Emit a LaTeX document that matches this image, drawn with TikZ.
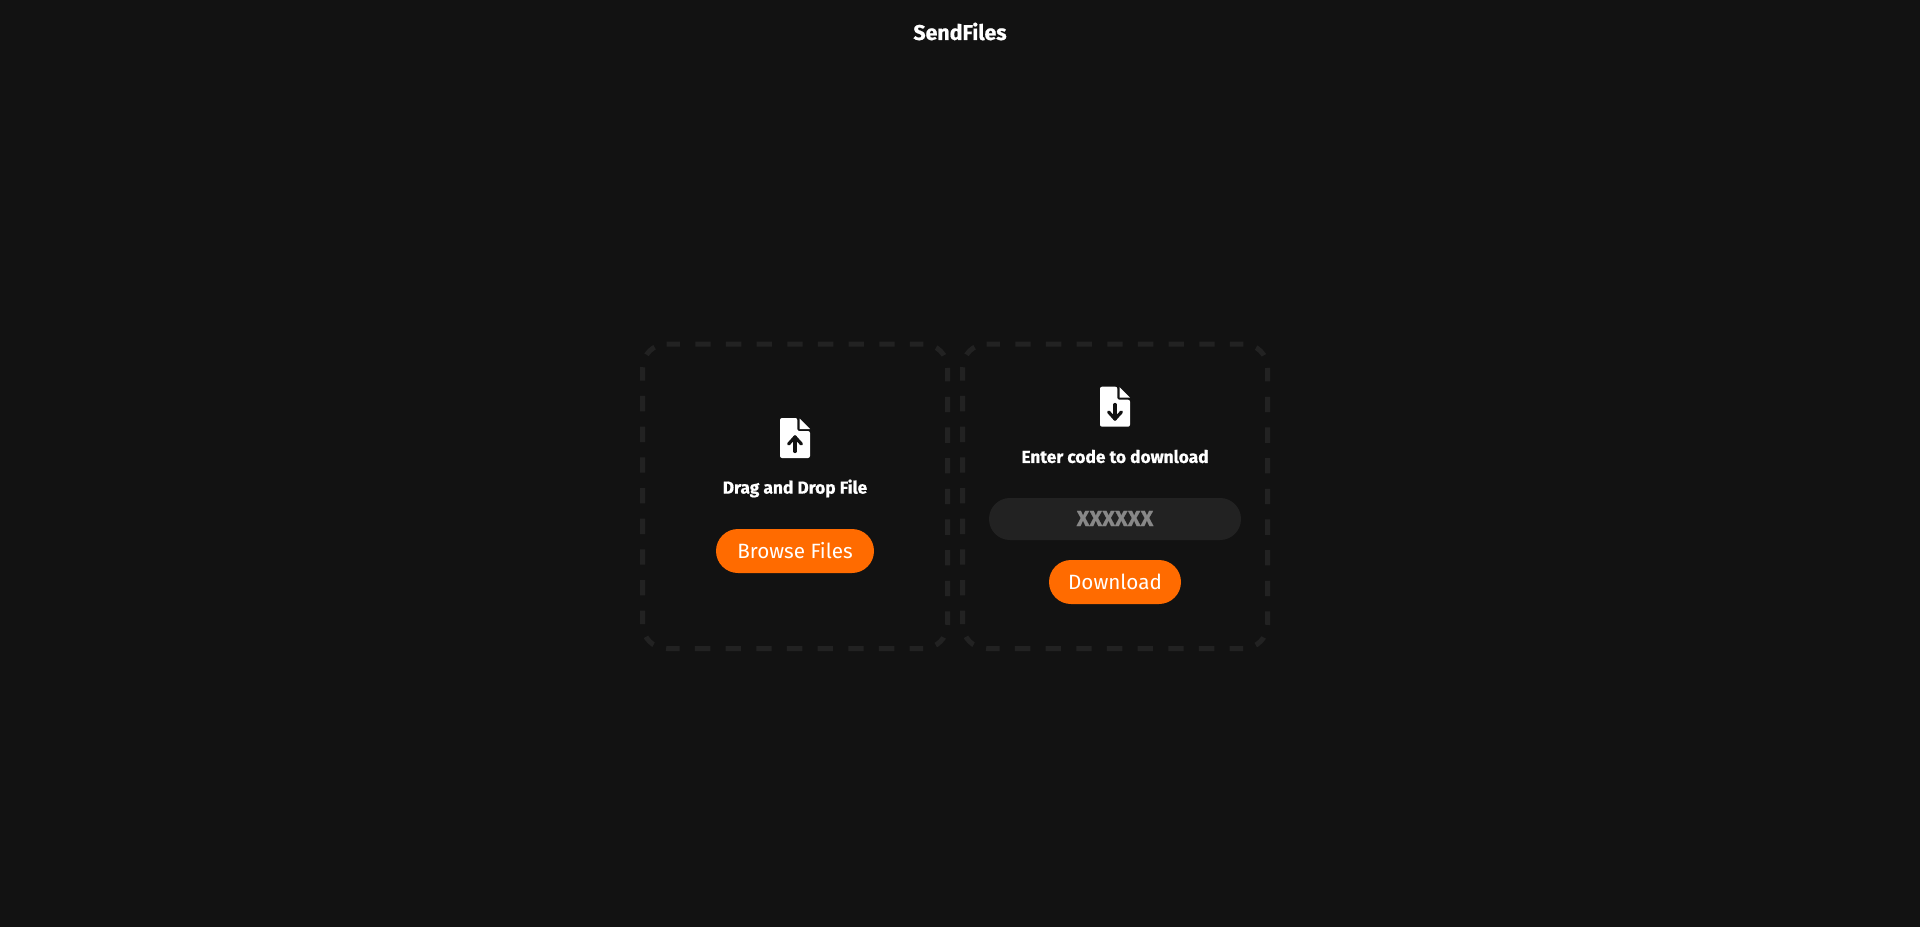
\documentclass[tikz,border=0pt]{standalone}
\usepackage{fontspec}
\setmainfont{Fira Sans}[BoldFeatures={FakeBold=0.8}]
\definecolor{pagebg}{HTML}{121212}
\definecolor{panelline}{HTML}{222222}
\definecolor{btnorange}{HTML}{FF6B00}
\definecolor{codegrey}{HTML}{888888}
\tikzset{
    boxline/.style={draw=panelline, line width=3.75pt, rounded corners=18pt,
        dash pattern=on 10.1pt off 11.5pt on 11.5pt off 11.5pt on 11.5pt off 11.5pt on 11.5pt off 11.5pt on 11.5pt off 11.5pt on 11.5pt off 11.5pt on 11.5pt off 11.5pt on 11.5pt off 11.5pt on 10.1pt off 10pt on 8.25pt off 10pt},
    headtext/.style={text=white, font=\bfseries\fontsize{13}{15}\selectfont, inner sep=0pt},
    btn/.style={fill=btnorange, text=white, rounded corners=16.5pt, minimum height=33pt, inner sep=0pt, font=\fontsize{15.5}{18}\selectfont},
    iconarrow/.style={draw=pagebg, line width=2.4pt, line cap=round, line join=round},
    pics/fileshape/.style={code={
        \fill[white, rounded corners=1.5pt] (-15,-20) -- (2.3,-20) -- (2.3,-7) -- (15,-7) -- (15,20) -- (-15,20) -- cycle;
        \fill[white] (4.5,-19.5) -- (15,-9) -- (4.5,-9) -- cycle;
    }}
}
\begin{document}
\begin{tikzpicture}[x=0.75pt,y=-0.75pt]
    \useasboundingbox[fill=pagebg] (0,0) rectangle (1920,927);
    % title
    \node[headtext, font=\bfseries\fontsize{16}{18}\selectfont] (title) at (960,31.5) {SendFiles};
    % the two dashed panels
    \coordinate (upstart) at (666.5,344);
    \coordinate (upne) at (947.5,344);
    \coordinate (upse) at (947.5,648.5);
    \coordinate (upsw) at (642.5,648.5);
    \coordinate (upnw) at (642.5,344);
    \coordinate (downstart) at (986.5,344);
    \coordinate (downne) at (1267.5,344);
    \coordinate (downse) at (1267.5,648.5);
    \coordinate (downsw) at (962.5,648.5);
    \coordinate (downnw) at (962.5,344);
    \draw[boxline] (upstart) -- (upne) -- (upse) -- (upsw) -- (upnw) -- (upstart);
    \draw[boxline] (downstart) -- (downne) -- (downse) -- (downsw) -- (downnw) -- (downstart);
    % upload side
    \pic at (795,438) {fileshape};
    \coordinate (uptip) at (795,437);
    \coordinate (uptail) at (795,451.5);
    \coordinate (upleft) at (788.6,444);
    \coordinate (upright) at (801.4,444);
    \draw[iconarrow] (uptail) -- (uptip);
    \draw[iconarrow] (upleft) -- (uptip) -- (upright);
    \node[headtext] (droptext) at (795,488.5) {Drag and Drop File};
    \node[btn, minimum width=118.5pt] (browse) at (795,551) {Browse Files};
    % download side
    \pic at (1115,406.7) {fileshape};
    \coordinate (downtip) at (1115,419);
    \coordinate (downtail) at (1115,404.5);
    \coordinate (downleft) at (1108.6,412);
    \coordinate (downright) at (1121.4,412);
    \draw[iconarrow] (downtail) -- (downtip);
    \draw[iconarrow] (downleft) -- (downtip) -- (downright);
    \node[headtext] (codetext) at (1115,456.5) {Enter code to download};
    \node[fill=panelline, text=codegrey, rounded corners=15.7pt, minimum width=189pt, minimum height=31.5pt, inner sep=0pt, font=\bfseries\fontsize{16.5}{18}\selectfont] (codefield) at (1115,519) {\raisebox{0.75pt}{XXXXXX}};
    \node[btn, minimum width=99pt] (download) at (1115,582) {Download};
\end{tikzpicture}
\end{document}
